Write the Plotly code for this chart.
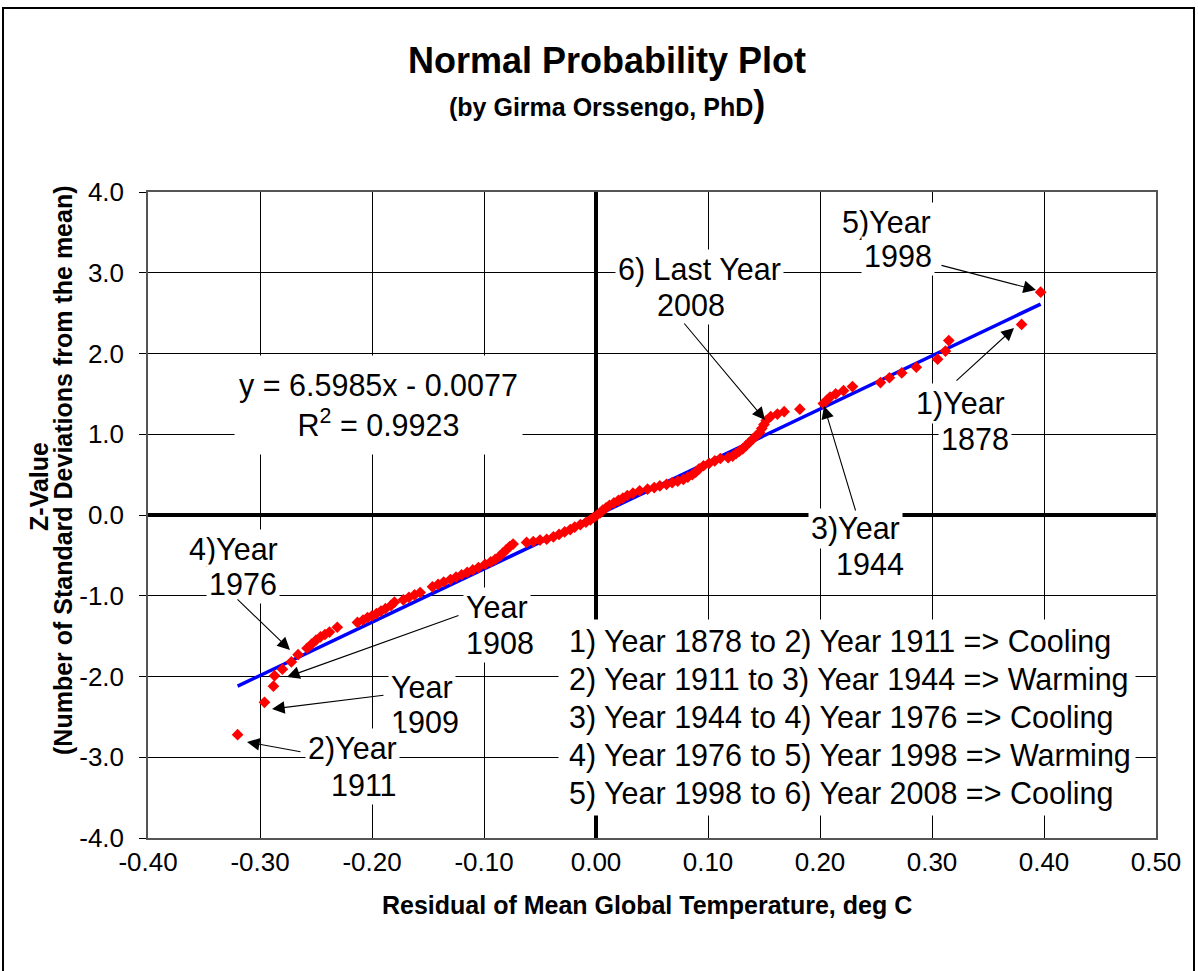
import plotly.graph_objects as go

# ---------------- data ----------------
resid = [
    -0.320, -0.296, -0.288, -0.287, -0.280, -0.272, -0.266, -0.258, -0.254, -0.250,
    -0.246, -0.242, -0.238, -0.231, -0.213, -0.208, -0.204, -0.200, -0.196, -0.192,
    -0.188, -0.183, -0.180, -0.172, -0.167, -0.162, -0.157, -0.146, -0.141, -0.136,
    -0.130, -0.125, -0.120, -0.115, -0.110, -0.105, -0.099, -0.094, -0.090, -0.086,
    -0.083, -0.080, -0.077, -0.074, -0.062, -0.056, -0.050, -0.044, -0.038, -0.033,
    -0.028, -0.023, -0.019, -0.014, -0.009, -0.005, -0.002, 0.001, 0.004, 0.006,
    0.009, 0.012, 0.016, 0.020, 0.024, 0.028, 0.033, 0.039, 0.046, 0.052,
    0.057, 0.063, 0.068, 0.073, 0.078, 0.082, 0.086, 0.089, 0.092, 0.096,
    0.101, 0.106, 0.111, 0.118, 0.122, 0.125, 0.128, 0.131, 0.134, 0.137,
    0.140, 0.143, 0.146, 0.148, 0.150, 0.152, 0.156, 0.162, 0.168, 0.182,
    0.203, 0.206, 0.209, 0.214, 0.221, 0.229, 0.254, 0.262, 0.273, 0.286,
    0.305, 0.312, 0.315, 0.380, 0.397,
]
zvalue = [
    -2.72, -2.32, -2.12, -1.99, -1.91, -1.82, -1.73, -1.65, -1.60, -1.55,
    -1.51, -1.48, -1.45, -1.39, -1.33, -1.30, -1.27, -1.25, -1.22, -1.19,
    -1.16, -1.12, -1.08, -1.05, -1.02, -0.99, -0.96, -0.89, -0.86, -0.83,
    -0.80, -0.77, -0.74, -0.71, -0.68, -0.65, -0.61, -0.58, -0.55, -0.51,
    -0.47, -0.43, -0.39, -0.36, -0.34, -0.33, -0.31, -0.30, -0.27, -0.24,
    -0.21, -0.18, -0.15, -0.12, -0.09, -0.06, -0.03, 0.00, 0.03, 0.06,
    0.09, 0.12, 0.15, 0.18, 0.21, 0.24, 0.27, 0.30, 0.32, 0.34,
    0.36, 0.38, 0.40, 0.42, 0.44, 0.47, 0.50, 0.53, 0.57, 0.61,
    0.64, 0.67, 0.70, 0.71, 0.73, 0.76, 0.79, 0.82, 0.86, 0.90,
    0.94, 0.98, 1.02, 1.07, 1.12, 1.17, 1.22, 1.25, 1.28, 1.31,
    1.38, 1.42, 1.46, 1.50, 1.54, 1.59, 1.64, 1.70, 1.76, 1.83,
    1.93, 2.03, 2.16, 2.36, 2.76,
]

SLOPE = 6.5985
INTERCEPT = -0.0077
R2 = 0.9923

x_ticks = [-0.40, -0.30, -0.20, -0.10, 0.00, 0.10, 0.20, 0.30, 0.40, 0.50]
y_ticks = [-4.0, -3.0, -2.0, -1.0, 0.0, 1.0, 2.0, 3.0, 4.0]

period_lines = [
    "1) Year 1878 to 2) Year 1911 => Cooling",
    "2) Year 1911 to 3) Year 1944 => Warming",
    "3) Year 1944 to 4) Year 1976 => Cooling",
    "4) Year 1976 to 5) Year 1998 => Warming",
    "5) Year 1998 to 6) Year 2008 => Cooling",
]

# ---------------- figure ----------------
W, H = 1198, 971
L, R, T, B = 148, 42, 192, 133
PW, PH = W - L - R, H - T - B
FONT = "Liberation Sans, Arial, sans-serif"
TXT = 30.5


def P(px, py):
    """pixel position -> paper coordinates"""
    return (px - L) / PW, (H - B - py) / PH


fit_x = [min(resid), max(resid)]
fit_y = [SLOPE * v + INTERCEPT for v in fit_x]

fig = go.Figure()
fig.add_trace(go.Scatter(x=fit_x, y=fit_y, mode="lines",
                         line=dict(color="#0000ff", width=3.5),
                         showlegend=False, hoverinfo="skip"))
fig.add_trace(go.Scatter(x=resid, y=zvalue, mode="markers",
                         marker=dict(symbol="diamond", size=9, color="#ff0000",
                                     line=dict(width=0)),
                         showlegend=False))

annotations = []


def label(text, px, py, size=TXT, bold=False, bg="white", **kw):
    x, y = P(px, py)
    if bold:
        text = "<b>" + text + "</b>"
    d = dict(x=x, y=y, xref="paper", yref="paper", text=text, showarrow=False,
             xanchor="center", yanchor="middle",
             font=dict(family=FONT, size=size, color="black"), borderpad=2)
    if bg:
        d["bgcolor"] = bg
    d.update(kw)
    annotations.append(d)


def arrow(hx, hy, tx, ty):
    x, y = P(hx, hy)
    annotations.append(dict(x=x, y=y, xref="paper", yref="paper", text="",
                            showarrow=True, ax=tx - hx, ay=ty - hy,
                            axref="pixel", ayref="pixel",
                            arrowhead=2, arrowsize=2.3, arrowwidth=1.1,
                            arrowcolor="black", standoff=0, startstandoff=0))


# titles
label("Normal Probability Plot", 607, 60, size=36, bold=True, bg=None)
label("(by Girma Orssengo, PhD<span style='font-size:36px'>)</span>", 607, 104,
      size=25, bold=True, bg=None)
label("Residual of Mean Global Temperature, deg C", 647, 905, size=25, bold=True, bg=None)
label("Z-Value", 39, 487, size=25, bold=True, bg=None, textangle=-90)
label("(Number of Standard Deviations from the mean)", 63, 470, size=25, bold=True,
      bg=None, textangle=-90)

# regression equation box
label(f"y = {SLOPE}x - {abs(INTERCEPT):.4f}<br>R<sup>2</sup> = {R2}", 378, 405,
      width=283, height=94)

# year labels
label("5)Year", 886, 222)
label("1998", 898, 256)
label("6) Last Year", 699, 269)
label("2008", 691, 305)
label("1)Year", 960, 403)
label("1878", 975, 439)
label("3)Year", 855, 528)
label("1944", 870, 564)
label("4)Year", 233, 549)
label("1976", 243, 584)
label("Year", 497, 607)
label("1908", 500, 643)
label("Year", 422, 687)
label("1909", 425, 722)
label("2)Year", 352, 748)
label("1911", 364, 785)

# period summary box: white panel, then one text line each
bx, by = P(558, 717)
annotations.append(dict(x=bx, y=by, xref="paper", yref="paper", text=" ",
                        showarrow=False, xanchor="left", yanchor="middle",
                        width=576, height=195, bgcolor="white", borderpad=0,
                        font=dict(family=FONT, size=10, color="white")))
for i, line in enumerate(period_lines):
    lx, ly = P(568, 641 + 38 * i)
    annotations.append(dict(x=lx, y=ly, xref="paper", yref="paper", text=line,
                            showarrow=False, xanchor="left", yanchor="middle",
                            align="left", borderpad=0,
                            font=dict(family=FONT, size=TXT, color="black")))

# arrows
arrow(1036, 290, 940, 265)   # 1998
arrow(765, 420, 683, 322)    # 2008
arrow(1014, 328, 955, 382)   # 1878
arrow(824, 406, 856, 512)    # 1944
arrow(290, 650, 236, 598)    # 1976
arrow(287, 677, 460, 615)    # 1908
arrow(272, 709, 385, 695)    # 1909
arrow(247, 742, 302, 752)    # 1911

# outer frame of the chart
x0, y0 = P(3, 990)
x1, y1 = P(1194, 8)
shapes = [dict(type="rect", xref="paper", yref="paper", x0=x0, y0=y0, x1=x1, y1=y1,
               line=dict(color="black", width=2), fillcolor="rgba(0,0,0,0)",
               layer="below")]

fig.update_layout(
    width=W, height=H,
    margin=dict(l=L, r=R, t=T, b=B, pad=0),
    paper_bgcolor="white", plot_bgcolor="white",
    font=dict(family=FONT, color="black"),
    annotations=annotations, shapes=shapes,
    showlegend=False,
)
fig.update_xaxes(range=[-0.40, 0.50], tickvals=x_ticks,
                 ticktext=[f"{v:.2f}" for v in x_ticks],
                 tickfont=dict(family=FONT, size=26, color="black"),
                 showgrid=True, gridcolor="black", gridwidth=1,
                 zeroline=True, zerolinecolor="black", zerolinewidth=4,
                 showline=True, linecolor="#555555", linewidth=1.5, mirror=True,
                 ticks="inside", ticklen=7, tickcolor="black")
fig.update_yaxes(range=[-4.0, 4.0], tickvals=y_ticks,
                 ticktext=[f"{v:.1f}" for v in y_ticks],
                 tickfont=dict(family=FONT, size=26, color="black"),
                 showgrid=True, gridcolor="black", gridwidth=1,
                 zeroline=True, zerolinecolor="black", zerolinewidth=4,
                 showline=True, linecolor="#555555", linewidth=1.5, mirror=True,
                 ticks="outside", ticklen=7, tickcolor="black",
                 ticklabelstandoff=10)

fig.write_html("out.html", config={"displayModeBar": False},
               post_script="document.body.style.margin='0px';")
